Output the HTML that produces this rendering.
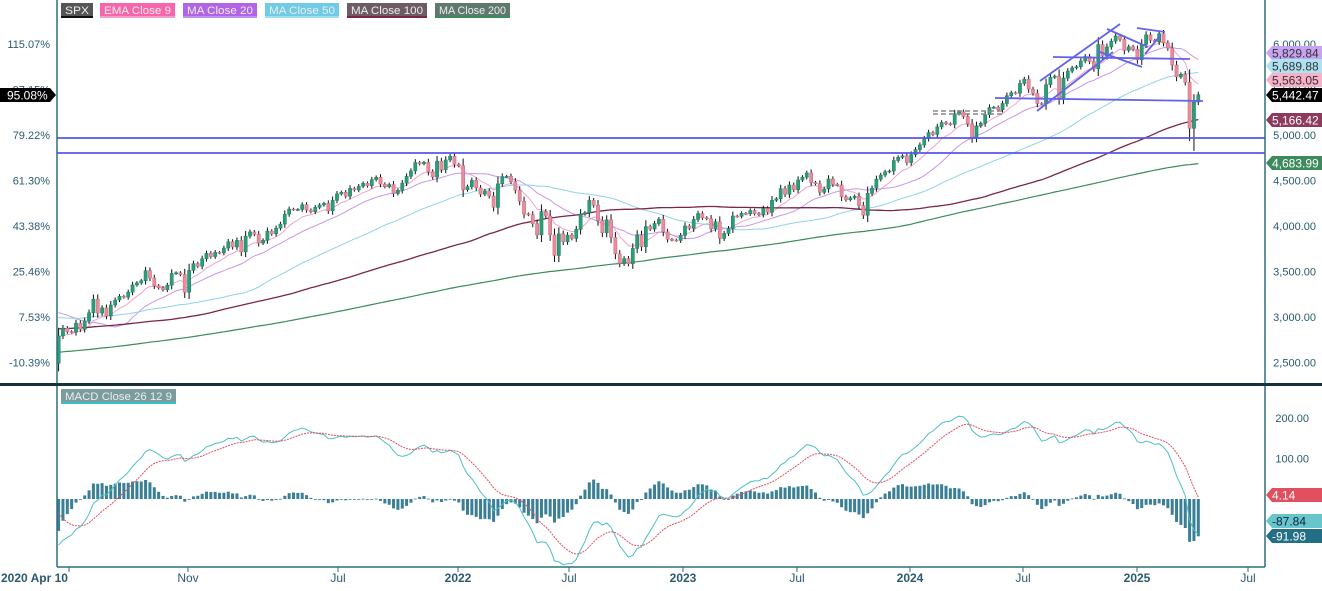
<!DOCTYPE html>
<html><head><meta charset="utf-8"><style>
body{margin:0;background:#fff;width:1322px;height:586px;overflow:hidden;font-family:"Liberation Sans",sans-serif;}
svg text{font-family:"Liberation Sans",sans-serif;}
</style></head><body>
<svg id="chart" width="1322" height="586" xmlns="http://www.w3.org/2000/svg">
<defs><clipPath id="pc"><rect x="57" y="0" width="1208" height="384"/></clipPath>
<clipPath id="mc"><rect x="57" y="386" width="1208" height="180"/></clipPath></defs>
<g id="grid"></g>
<g id="price" clip-path="url(#pc)"></g>
<g id="macd" clip-path="url(#mc)"></g>
<g id="axes"></g>
</svg>
<script>
// warm-up monthly closes Jan 2016 - Jan 2020 then weekly Feb-Apr 2020
const historyMonthly=[1940,1932,2060,2065,2097,2099,2174,2171,2168,2126,2199,2239,2279,2364,2363,2384,2412,2423,2470,2472,2519,2575,2648,2674,2824,2714,2641,2648,2705,2718,2816,2902,2914,2712,2760,2507,2704,2784,2834,2946,2752,2942,2980,2926,2977,3038,3141,3231,3226];
const historyWeekly=[3328,3380,3338,2954,2972,2711,2305,2541,2489];
// visible weekly closes Apr 9 2020 -> Apr 2025
const closes=[2790,2875,2837,2831,2930,2864,2955,3044,3194,3041,3098,3009,3130,3185,3225,3216,3271,3351,3373,3397,3508,3427,3341,3319,3298,3348,3477,3484,3465,3270,3510,3585,3557,3638,3699,3663,3709,3703,3756,
3825,3768,3841,3714,3887,3934,3907,3811,3842,3943,3913,3975,4020,4129,4185,4180,4181,4233,4174,4156,4204,4230,4247,4166,4281,4352,4370,4327,4412,4395,4437,4468,4442,4509,4535,4459,4433,4455,4357,4391,4471,4545,4605,4697,4683,4698,4595,4538,4712,4620,4725,4766,
4677,4662,4398,4432,4501,4419,4349,4385,4329,4204,4463,4543,4546,4488,4393,4272,4132,4123,4024,3901,4158,4109,3901,3675,3912,3825,3899,3863,3962,4130,4145,4280,4228,4058,3924,4067,3873,3693,3586,3640,3583,3752,3901,3771,3993,3965,4026,4072,3934,3852,3845,3840,
3895,3999,3973,4071,4136,4090,4079,3970,4045,3862,3917,3971,4109,4105,4138,4133,4169,4136,4124,4192,4151,4282,4299,4410,4348,4450,4399,4505,4536,4582,4478,4464,4370,4406,4516,4457,4450,4320,4288,4308,4327,4224,4117,4358,4415,4514,4559,4595,4604,4719,4755,4770,
4697,4784,4840,4891,4959,5027,5006,5089,5137,5124,5117,5234,5254,5204,5123,4967,5100,5128,5223,5303,5305,5278,5347,5432,5465,5460,5567,5615,5505,5459,5347,5344,5554,5634,5648,5408,5626,5703,5738,5751,5815,5864,5808,5729,5995,5870,5969,6032,6090,6051,5931,5971,5942,
5827,5997,6101,6041,6026,6115,6013,5955,5770,5639,5668,5581,5074,5363,5442.47];
const lowOverride={261:4825};
const priceTicks=[2500,3000,3500,4000,4500,5000,5500,6000];
const pctBase=2789.82;
const macdTicks=[100,200];
const xLabels=[["2020 Apr 10",0,true],["Nov",188,false],["Jul",338,false],["2022",458,true],["Jul",569,false],["2023",683,true],["Jul",797,false],["2024",910,true],["Jul",1023,false],["2025",1137,true],["Jul",1248,false]];
const hLines=[4967,4802];

const NS="http://www.w3.org/2000/svg";
function el(tag,attrs,parent,txt){const e=document.createElementNS(NS,tag);for(const k in attrs)e.setAttribute(k,attrs[k]);if(txt!==undefined)e.textContent=txt;parent.appendChild(e);return e;}
const xOf=i=>58.6+i*4.35;
const yP=p=>135-(p-5000)*0.0909;
const yM=v=>499-v*0.405;
const G=id=>document.getElementById(id);
const price=G('price'),macdG=G('macd'),axes=G('axes'),grid=G('grid');

let full=[];historyMonthly.forEach(v=>{for(let k=0;k<4;k++)full.push(v);});
full=full.concat(historyWeekly);const off=full.length;full=full.concat(closes);
function sma(n){return closes.map((_,i)=>{const j=i+off;const s=Math.max(0,j-n+1);let t=0;for(let k=s;k<=j;k++)t+=full[k];return t/(j-s+1);});}
function emaArr(arr,n){const a=2/(n+1);const out=[];let e=arr[0];arr.forEach((v,i)=>{e=i?v*a+e*(1-a):v;out.push(e);});return out;}
const emaFull9=emaArr(full,9).slice(off);
const lines=[[emaFull9,'#f4a3cc',1],[sma(20),'#c697ea',1],[sma(50),'#8fd3ea',1],[sma(100),'#7b2548',1.3],[sma(200),'#3d8a5c',1.2]];
const names=['ema9-line','ma20-line','ma50-line','ma100-line','ma200-line'];
lines.forEach((l,k)=>{const d=l[0].map((v,i)=>(i?'L':'M')+xOf(i).toFixed(1)+' '+yP(v).toFixed(1)).join('');
const p=el('path',{d:d,fill:'none',stroke:l[1],'stroke-width':l[2]},price);

});

closes.forEach((c,i)=>{const o=i?closes[i-1]:historyWeekly[historyWeekly.length-1];
const up=c>=o;const w=Math.abs(c-o)*0.25+14;
const hi=Math.max(o,c)+w;const lo=lowOverride[i]!==undefined?lowOverride[i]:Math.min(o,c)-w;
const x=xOf(i);const g=el('g',{},price);


el('line',{x1:x,x2:x,y1:yP(hi),y2:yP(lo),stroke:'#111','stroke-width':1},g);
const top=yP(Math.max(o,c)),bot=yP(Math.min(o,c));
el('rect',{x:x-1.6,y:top,width:3.2,height:Math.max(1,bot-top),fill:up?'#2b9e79':'#e98c9c',stroke:up?'#1d7d5e':'#c8687a','stroke-width':0.5},g);});

hLines.forEach(v=>{const l=el('line',{x1:0,x2:1265,y1:yP(v),y2:yP(v),stroke:'#5656ee','stroke-width':1.8},price);

});
const trend=[[1040,81,1120,24],[1037,111,1113,52],[1107,29,1148,47],[1097,51,1142,67],[1053,57,1190,59],[995,98,1203,101],[1137,28,1165,32],[1145,54,1160,36]];
trend.forEach(t=>{const l=el('line',{x1:t[0],y1:t[1],x2:t[2],y2:t[3],stroke:'#6262ee','stroke-width':1.8},price);

});
[111,114].forEach(y=>{const l=el('line',{x1:933,x2:1005,y1:y,y2:y,stroke:'#888','stroke-width':1.5,'stroke-dasharray':'5,3'},price);

});

const e12=emaArr(full,12),e26=emaArr(full,26);const macdFull=e12.map((v,i)=>v-e26[i]);
const sigFull=emaArr(macdFull,9);const macdV=macdFull.slice(off),sigV=sigFull.slice(off);
macdV.forEach((m,i)=>{const h=m-sigV[i];const y0=yM(0),y1=yM(h);
const r=el('rect',{x:xOf(i)-1.5,y:Math.min(y0,y1),width:3,height:Math.max(0.8,Math.abs(y1-y0)),fill:'#3a7f95'},macdG);

});
const mp=el('path',{d:macdV.map((v,i)=>(i?'L':'M')+xOf(i).toFixed(1)+' '+yM(v).toFixed(1)).join(''),fill:'none',stroke:'#4cc0c6','stroke-width':1},macdG);


const sp=el('path',{d:sigV.map((v,i)=>(i?'L':'M')+xOf(i).toFixed(1)+' '+yM(v).toFixed(1)).join(''),fill:'none',stroke:'#e0505e','stroke-width':1,'stroke-dasharray':'2,1'},macdG);



el('line',{x1:57,x2:57,y1:0,y2:567,stroke:'#2d6f7f','stroke-width':1.5},axes);
el('line',{x1:1265,x2:1265,y1:0,y2:567,stroke:'#2d6f7f','stroke-width':1.5},axes);
el('line',{x1:0,x2:1322,y1:384.5,y2:384.5,stroke:'#17323d','stroke-width':3},axes);
el('line',{x1:57,x2:1265,y1:567,y2:567,stroke:'#2d6f7f','stroke-width':1.5},axes);
priceTicks.forEach(p=>{const t=el('text',{x:1316,y:yP(p)+4,'font-size':11,fill:'#2a5a70','text-anchor':'end'},axes,p.toLocaleString('en-US',{minimumFractionDigits:2}));


const pct=((p/pctBase-1)*100).toFixed(2)+'%';
const u=el('text',{x:50,y:yP(p)+4,'font-size':11,fill:'#2a5a70','text-anchor':'end'},axes,pct);

});
macdTicks.forEach(v=>{const t=el('text',{x:1309,y:yM(v)+4,'font-size':11,fill:'#2a5a70','text-anchor':'end'},axes,v.toFixed(2));

});
xLabels.forEach(l=>{const t=el('text',{x:l[1]===0?1:l[1],y:582,'font-size':12,'font-weight':l[2]?'bold':'normal',fill:'#2a5a70','text-anchor':l[1]===0?'start':'middle'},axes,l[0]);


el('line',{x1:l[1]===0?69:l[1],x2:l[1]===0?69:l[1],y1:567,y2:572,stroke:'#2d6f7f'},axes);});

const tags=[["5,829.84",53,'#c9a2f2','#333'],["5,689.88",66,'#aee2f2','#333'],["5,563.05",80,'#f7b0c8','#333'],["5,442.47",95,'#000','#fff'],["5,166.42",120,'#8c3a5e','#fff'],["4,683.99",163,'#3d8a5c','#fff'],["4.14",495,'#e0505e','#fff'],["-87.84",521,'#66c6cc','#123'],["-91.98",536,'#226f86','#fff']];
tags.forEach(t=>{const g=el('g',{},axes);


el('path',{d:`M1266 ${t[1]} L1272 ${t[1]-7} L1322 ${t[1]-7} L1322 ${t[1]+7} L1272 ${t[1]+7}Z`,fill:t[2]},g);
el('text',{x:1272,y:t[1]+4.5,'font-size':12,fill:t[3]},g,t[0]);});
const lt=el('g',{},axes);


el('path',{d:'M0 88 L50 88 L56 95 L50 102 L0 102Z',fill:'#000'},lt);
el('text',{x:7,y:99.5,'font-size':12,fill:'#fff'},lt,'95.08%');

const legend=[["SPX",61,32,'#555','#111'],["EMA Close 9",100,75,'#f766aa','#f0a0c8'],["MA Close 20",183,74,'#b264e6','#c090f0'],["MA Close 50",265,74,'#6fcbe6','#a0e0f0'],["MA Close 100",347,80,'#6d5c66','#7b2548'],["MA Close 200",435,75,'#5e7a6c','#3d8a5c'],["MACD Close 26 12 9",61,115,'#7a9c9e','#3cc0c8',389]];
legend.forEach(l=>{const y=l[5]||3;const g=el('g',{},axes);


el('rect',{x:l[1],y:y,width:l[2],height:14,fill:l[3]},g);
el('rect',{x:l[1],y:y+13,width:l[2],height:2,fill:l[4]},g);
el('text',{x:l[1]+4,y:y+11,'font-size':11,fill:'#eee',textLength:l[2]-8,lengthAdjust:'spacingAndGlyphs'},g,l[0]);});
</script>
</body></html>
